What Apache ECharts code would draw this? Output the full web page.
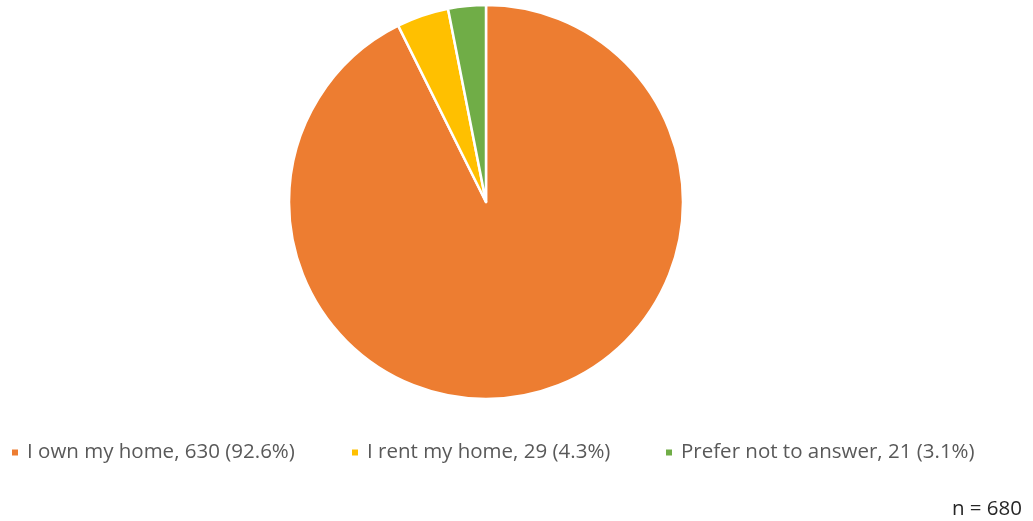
<!DOCTYPE html>
<html><head><meta charset="utf-8">
<script src="https://cdn.jsdelivr.net/npm/echarts@6/dist/echarts.min.js"></script>
<style>html,body{margin:0;padding:0;background:#fff}#c{width:1033px;height:521px}</style>
</head><body><div id="c"></div>
<script>
const categories = ['I own my home', 'I rent my home', 'Prefer not to answer'];
const values = [630, 29, 21];
const percents = ['92.6%', '4.3%', '3.1%'];
const colors = ['#ED7D31', '#FFC000', '#70AD47'];
const total = 680;

const chart = echarts.init(document.getElementById('c'));
const labelOf = {};
categories.forEach((c, i) => { labelOf[c] = c + ', ' + values[i] + ' (' + percents[i] + ')'; });
const legendLefts = [10, 350, 664];
const font = '"Open Sans", "Noto Sans", sans-serif';
chart.setOption({
  animation: false,
  color: colors,
  legend: categories.map((c, i) => ({
    data: [c],
    left: legendLefts[i],
    top: 442,
    padding: 0,
    icon: 'rect',
    itemWidth: 8,
    itemHeight: 8,
    formatter: n => labelOf[n],
    textStyle: { color: '#595959', fontSize: 20.5, fontFamily: font, padding: [0, 0, 0, 3] }
  })),
  graphic: [{
    type: 'text', right: 11, top: 499,
    style: { text: 'n = ' + total, fill: '#262626', fontSize: 20.5, fontFamily: font }
  }],
  series: [{
    type: 'pie',
    center: [486, 202],
    radius: [0, 197],
    startAngle: 90,
    clockwise: true,
    label: { show: false },
    labelLine: { show: false },
    itemStyle: { borderColor: '#fff', borderWidth: 2.5 },
    emphasis: { disabled: true },
    data: categories.map((c, i) => ({ name: c, value: values[i] }))
  }]
});
</script></body></html>
